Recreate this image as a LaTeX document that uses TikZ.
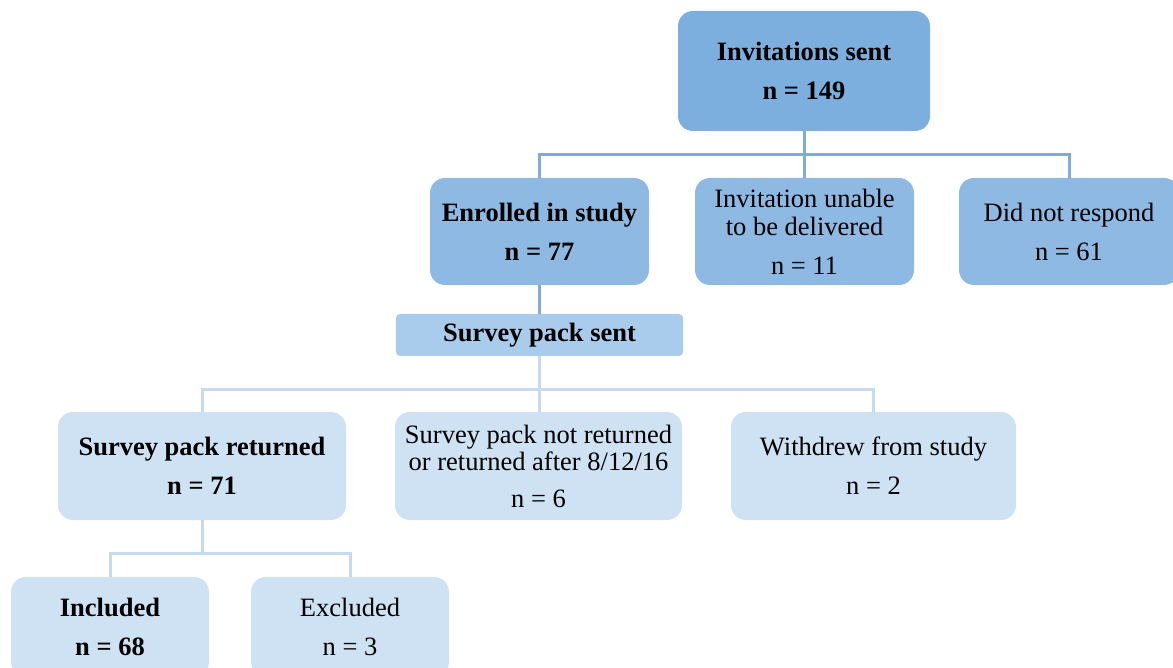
\documentclass[tikz,border=0pt]{standalone}
\usepackage{fontspec}
\setmainfont{Liberation Serif}
\definecolor{cTop}{HTML}{7CAEDE}
\definecolor{cMid}{HTML}{8DB9E2}
\definecolor{cSent}{HTML}{AACCEC}
\definecolor{cLow}{HTML}{CFE2F3}
\definecolor{lTop}{HTML}{80AADA}
\definecolor{lLow}{HTML}{C6D9EF}
\begin{document}
\begin{tikzpicture}[x=1pt,y=-1pt,
  box/.style={rounded corners=15pt, inner sep=0pt, outer sep=0pt, align=center,
    font=\fontsize{26.5}{39}\selectfont},
  boldbox/.style={box, font=\fontsize{26.5}{39}\selectfont\bfseries},
  lineA/.style={draw=lTop, line width=3pt},
  lineB/.style={draw=lLow, line width=3pt}]
\useasboundingbox (0,0) rectangle (1173,668);
\clip (0,0) rectangle (1173,668);

\node[boldbox, fill=cTop, minimum width=252pt, minimum height=120pt] (inv) at (804,71) {Invitations sent\\n = 149};

\node[boldbox, fill=cMid, minimum width=219pt, minimum height=107pt] (enr) at (539.5,231.5) {Enrolled in study\\n = 77};
\node[box, fill=cMid, minimum width=219pt, minimum height=107pt, font=\fontsize{26.5}{28}\selectfont] (unab) at (804.5,231.5) {Invitation unable\\to be delivered\\[11pt]n = 11};
\node[box, fill=cMid, minimum width=220pt, minimum height=107pt] (dnr) at (1069,231.5) {Did not respond\\n = 61};

\node[boldbox, fill=cSent, rounded corners=4pt, minimum width=287pt, minimum height=42pt] (sps) at (539.5,335) {Survey pack sent};

\node[boldbox, fill=cLow, minimum width=288pt, minimum height=108pt] (ret) at (202,466) {Survey pack returned\\n = 71};
\node[box, fill=cLow, minimum width=287pt, minimum height=108pt, font=\fontsize{26.5}{27}\selectfont] (nret) at (538.5,466) {Survey pack not returned\\or returned after 8/12/16\\[10pt]n = 6};
\node[box, fill=cLow, minimum width=285pt, minimum height=108pt] (wd) at (873.5,466) {Withdrew from study\\n = 2};

\node[boldbox, fill=cLow, minimum width=198pt, minimum height=100pt] (inc) at (110,627) {Included\\n = 68};
\node[box, fill=cLow, minimum width=198pt, minimum height=100pt] (exc) at (350,627) {Excluded\\n = 3};

\coordinate (j1) at (804.5,155);
\coordinate (j2) at (539.5,389);
\coordinate (j3) at (202,553);

\draw[lineA] (inv.south) -- (inv.south |- unab.north);
\draw[lineA] (enr.north) |- (j1) -| (dnr.north);
\draw[lineA] (enr.south) -- (sps.north);
\draw[lineB] (sps.south) -- (sps.south |- nret.north);
\draw[lineB] (ret.north) |- (j2) -| (wd.north);
\draw[lineB] (ret.south) -- (j3);
\draw[lineB] (inc.north) |- (j3) -| (exc.north);
\end{tikzpicture}
\end{document}
